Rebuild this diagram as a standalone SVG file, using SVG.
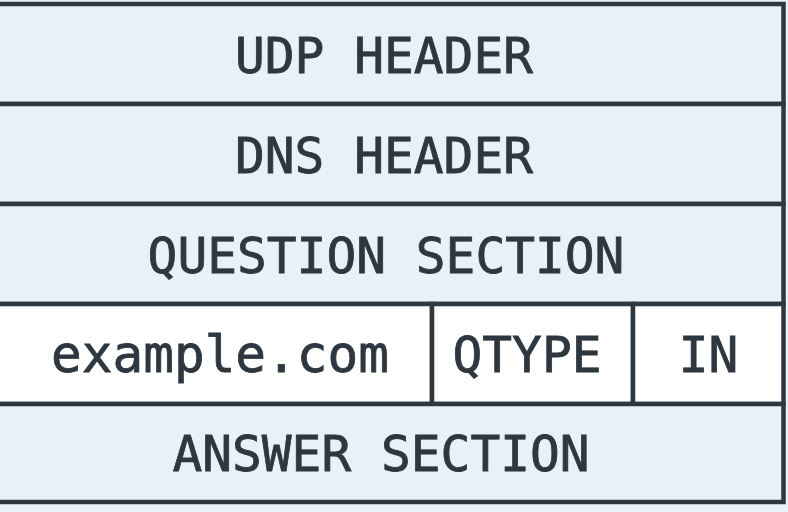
<svg xmlns="http://www.w3.org/2000/svg" width="788" height="512" viewBox="0 0 788 512">
  <style>
    .band { fill: #e6f1fa; stroke: #2e3842; stroke-width: 4.5; }
    .cell { fill: #ffffff; stroke: #2e3842; stroke-width: 4.5; }
    .lbl { font-family: "DejaVu Sans Mono", "Liberation Mono", monospace; font-size: 49.5px; fill: #2e3740; stroke: #2e3740; stroke-width: 0.8; text-anchor: middle; }
  </style>
  <rect x="0" y="0" width="788" height="512" fill="#e9f2fa"/>
  <g id="udp-header">
    <rect class="band" x="-10" y="4" width="793.5" height="100"/>
    <text class="lbl" x="384" y="73">UDP HEADER</text>
  </g>
  <g id="dns-header">
    <rect class="band" x="-10" y="104" width="793.5" height="100"/>
    <text class="lbl" x="384" y="173">DNS HEADER</text>
  </g>
  <g id="question-section">
    <rect class="band" x="-10" y="204" width="793.5" height="100"/>
    <text class="lbl" x="386" y="273">QUESTION SECTION</text>
  </g>
  <g id="qname">
    <rect class="cell" x="-10" y="304" width="442" height="100"/>
    <text class="lbl" x="220" y="372" style="font-size:51px">example.com</text>
  </g>
  <g id="qtype">
    <rect class="cell" x="432" y="304" width="201" height="100"/>
    <text class="lbl" x="527" y="372">QTYPE</text>
  </g>
  <g id="qclass">
    <rect class="cell" x="633" y="304" width="150.5" height="100"/>
    <text class="lbl" x="708.5" y="372">IN</text>
  </g>
  <g id="answer-section">
    <rect class="band" x="-10" y="404" width="793.5" height="98"/>
    <text class="lbl" x="381" y="471">ANSWER SECTION</text>
  </g>
  <g id="connectors"></g>
</svg>
